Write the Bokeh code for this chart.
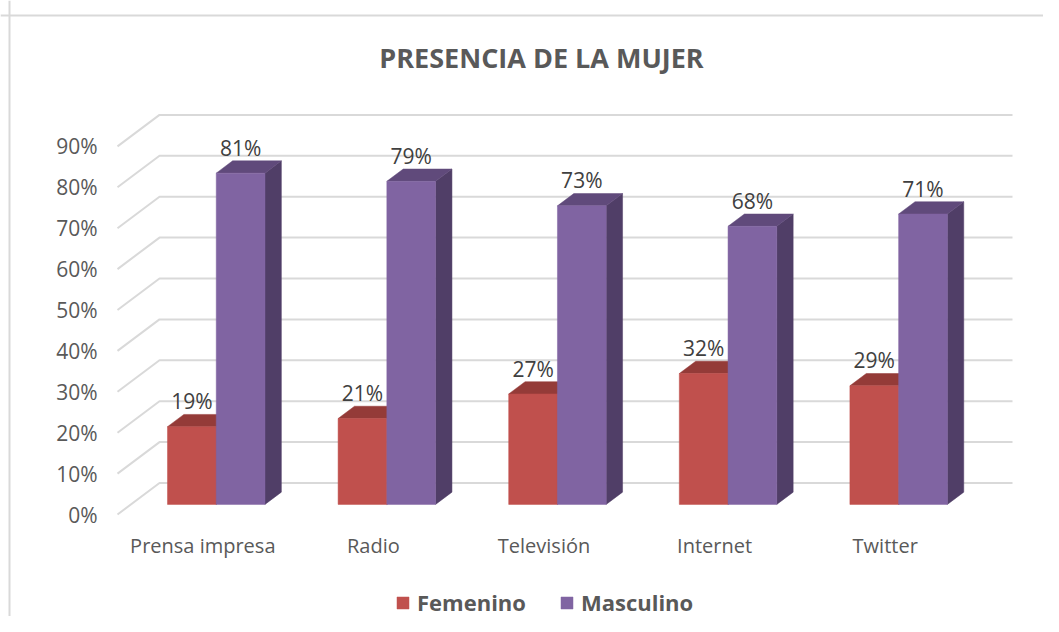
from bokeh.plotting import figure
from bokeh.models import Range1d, Legend, LegendItem, Span
from bokeh.core.properties import value
from bokeh.embed import file_html
from bokeh.resources import INLINE

# ---------------- data ----------------
categories = ["Prensa impresa", "Radio", "Televisión", "Internet", "Twitter"]
femenino = [0.19, 0.21, 0.27, 0.32, 0.29]
masculino = [0.81, 0.79, 0.73, 0.68, 0.71]
series_names = ["Femenino", "Masculino"]
tick_values = [0.0, 0.1, 0.2, 0.3, 0.4, 0.5, 0.6, 0.7, 0.8, 0.9]
tick_labels = ["0%", "10%", "20%", "30%", "40%", "50%", "60%", "70%", "80%", "90%"]
title_text = "PRESENCIA DE LA MUJER"

# ---------------- layout / style ----------------
W, H = 1043, 616
OX, OY = 0, 0
X0_PX, SLOT_PX = 117.0, 170.6
Y0_PX, UNIT_PX = 514.0, 409.0


def xd(px):
    return (px - X0_PX) / SLOT_PX


def yd(py):
    return (Y0_PX - py) / UNIT_PX


DX = 42.0 / SLOT_PX
DY = 31.5 / UNIT_PX
F0 = 0.32
T = 0.39
GAP = 0.2143
BW = 0.2857

FONT = value("Open Sans")
GRID_COLOR = "#d9d9d9"
TEXT_COLOR = "#595959"
LABEL_COLOR = "#404040"
front_colors = ["#C0504D", "#8064A2"]
top_colors = ["#943B38", "#604A7B"]
side_colors = ["#8E3835", "#503E67"]

p = figure(width=W, height=H,
           x_range=Range1d(xd(OX), xd(OX + W)),
           y_range=Range1d(yd(OY + H), yd(OY)),
           output_backend="svg", toolbar_location=None,
           x_axis_type=None, y_axis_type=None, min_border=0,
           outline_line_color=None, background_fill_color="white",
           border_fill_color="white")

# chart border (left & top visible)
p.add_layout(Span(location=xd(9), dimension="height", line_color=GRID_COLOR, line_width=2))
p.add_layout(Span(location=yd(15), dimension="width", line_color=GRID_COLOR, line_width=2))

n = len(categories)

# back wall gridlines with 3D diagonal on the side wall
gx = [[0.0, DX, n + DX] for v in tick_values]
gy = [[v, v + DY, v + DY] for v in tick_values]
p.multi_line(gx, gy, line_color=GRID_COLOR, line_width=2)

# tick labels
p.text(x=[xd(97)] * len(tick_values), y=tick_values, text=tick_labels,
       text_font=FONT, text_font_size="21px", text_color=TEXT_COLOR,
       text_align="right", text_baseline="middle")

# bars
front_renderers = []
for j, vals in enumerate([femenino, masculino]):
    lefts = [i + GAP + j * BW + F0 * DX for i in range(n)]
    rights = [l + BW for l in lefts]
    bottoms = [F0 * DY] * n
    tops = [v + F0 * DY for v in vals]
    side_xs = [[r, r, r + T * DX, r + T * DX] for r in rights]
    side_ys = [[b, t, t + T * DY, b + T * DY] for b, t in zip(bottoms, tops)]
    p.patches(side_xs, side_ys, fill_color=side_colors[j], line_color=side_colors[j], line_width=0.5)
    top_xs = [[l, r, r + T * DX, l + T * DX] for l, r in zip(lefts, rights)]
    top_ys = [[t, t, t + T * DY, t + T * DY] for t in tops]
    p.patches(top_xs, top_ys, fill_color=top_colors[j], line_color=top_colors[j], line_width=0.5)
    fr = p.quad(left=lefts, right=rights, bottom=bottoms, top=tops,
                fill_color=front_colors[j], line_color=front_colors[j], line_width=0.5)
    front_renderers.append(fr)
    # value labels
    p.text(x=[(l + r) / 2 for l, r in zip(lefts, rights)],
           y=[t + T * DY + 0.032 for t in tops],
           text=["%d%%" % round(v * 100) for v in vals],
           text_font=FONT, text_font_size="21px", text_color=LABEL_COLOR,
           text_align="center", text_baseline="middle")

# category labels
p.text(x=[i + 0.5 for i in range(n)], y=[yd(545)] * n, text=categories,
       text_font=FONT, text_font_size="20px", text_color=TEXT_COLOR,
       text_align="center", text_baseline="middle")

# title
p.text(x=[xd(541)], y=[yd(57)], text=[title_text],
       text_font=FONT, text_font_size="27px", text_font_style="bold",
       text_color=TEXT_COLOR, text_align="center", text_baseline="middle")

legend = Legend(items=[LegendItem(label=series_names[k], renderers=[front_renderers[k]]) for k in range(2)],
                orientation="horizontal", location=(395 - OX, -1),
                padding=0, margin=0, spacing=33, label_standoff=7,
                glyph_width=15, glyph_height=15,
                border_line_color=None, background_fill_alpha=0,
                label_text_font="Open Sans", label_text_font_style="bold",
                label_text_font_size="22px", label_text_color=TEXT_COLOR)
p.add_layout(legend)

open("out.html", "w").write(file_html(p, INLINE))
